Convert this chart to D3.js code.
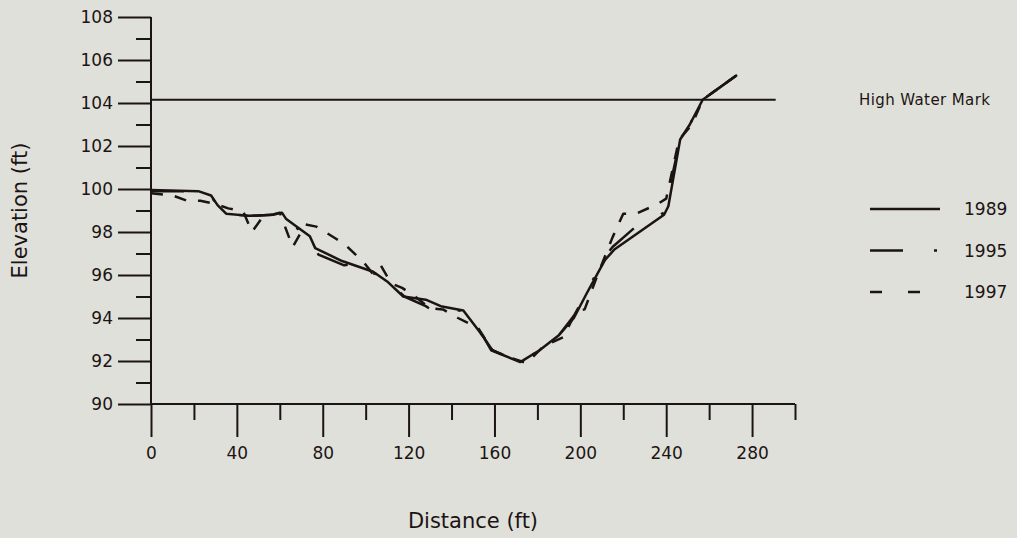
<!DOCTYPE html>
<html>
<head>
<meta charset="utf-8">
<script src="https://cdn.jsdelivr.net/npm/d3@7"></script>
<style>
  html, body { margin: 0; padding: 0; background: #dfe0d9; }
  svg { display: block; }
  text { font-family: "DejaVu Sans", sans-serif; fill: #1c1414; }
</style>
</head>
<body>
<div id="chart"></div>
<script>
var distance1989 = [0, 22, 28, 31, 35, 46, 57, 61, 63, 74, 76.5, 89, 103.5, 110, 117.5, 128, 135, 145.5, 155, 158.5, 172, 181, 190, 197, 203, 211.5, 216, 239, 241, 246.5, 251, 257, 273];
var elev1989 = [99.95, 99.9, 99.7, 99.25, 98.85, 98.75, 98.8, 98.9, 98.6, 97.8, 97.25, 96.65, 96.15, 95.7, 95.0, 94.85, 94.55, 94.35, 93.1, 92.5, 91.95, 92.5, 93.2, 94.0, 95.15, 96.7, 97.2, 98.8, 99.2, 102.3, 103.0, 104.15, 105.3];

var distance1995 = [0, 22, 28, 34, 46, 57, 61, 64, 74, 78, 90, 99, 103, 108, 118, 128, 132, 136, 146, 155, 159, 171, 180, 190, 197, 203, 211, 215, 227, 239, 246.5, 251, 257, 273];
var elev1995 = [99.9, 99.9, 99.65, 98.85, 98.75, 98.8, 98.9, 98.5, 97.7, 96.95, 96.45, 96.6, 96.1, 95.95, 95.0, 94.55, 94.3, 94.5, 94.3, 93.1, 92.5, 92.0, 92.4, 93.2, 94.1, 95.2, 96.8, 97.3, 98.35, 98.9, 102.3, 103.0, 104.15, 105.3];

var distance1997 = [0, 10, 17, 23, 30, 36, 43, 47, 52, 60, 66, 72, 77, 86, 90, 99, 103, 107, 112, 117, 123, 130, 136, 143, 148, 152, 159, 166, 175, 183, 192, 198, 202, 208, 215, 220, 226, 236, 240, 246, 252, 257, 273];
var elev1997 = [99.8, 99.7, 99.45, 99.45, 99.3, 99.1, 98.95, 98.0, 98.7, 98.9, 97.3, 98.35, 98.25, 97.7, 97.45, 96.6, 96.1, 96.45, 95.6, 95.4, 95.0, 94.45, 94.4, 94.0, 93.75, 93.6, 92.5, 92.2, 91.9, 92.7, 93.1, 94.3, 94.4, 96.0, 97.75, 98.85, 98.85, 99.3, 99.55, 102.3, 103.0, 104.15, 105.3];

var highWater = 104.15;
var highWaterEnd = 291;

var years = ["1989", "1995", "1997"];
var dashes = ["none", "33,31,3,31", "12,12"];

var xMajor = [0, 40, 80, 120, 160, 200, 240, 280];
var xMinor = [20, 60, 100, 140, 180, 220, 260, 300];
var yMajor = [90, 92, 94, 96, 98, 100, 102, 104, 106, 108];
var yMinor = [91, 93, 95, 97, 99, 101, 103, 105, 107];

var width = 1017, height = 538;
var ink = "#1c1414";

var svg = d3.select("#chart").append("svg")
    .attr("width", width)
    .attr("height", height);

var x = d3.scaleLinear().domain([0, 300]).range([151, 795]);
var y = d3.scaleLinear().domain([90, 108]).range([404, 17]);

// axes: long major ticks with labels, short minor ticks
function styleAxis(g) {
    g.select(".domain").remove();
    g.selectAll(".tick line").attr("stroke", ink).attr("stroke-width", 2);
    g.selectAll(".tick text")
        .style("font-family", "DejaVu Sans, sans-serif")
        .style("font-size", "17px")
        .attr("fill", ink);
}

svg.append("g")
    .attr("transform", "translate(0," + y(90) + ")")
    .call(d3.axisBottom(x).tickValues(xMajor).tickSize(33).tickPadding(10).tickFormat(d3.format("d")))
    .call(styleAxis);
svg.append("g")
    .attr("transform", "translate(0," + y(90) + ")")
    .call(d3.axisBottom(x).tickValues(xMinor).tickSize(16).tickFormat(""))
    .call(styleAxis);

svg.append("g")
    .attr("transform", "translate(" + x(0) + ",0)")
    .call(d3.axisLeft(y).tickValues(yMajor).tickSize(33).tickPadding(5).tickFormat(d3.format("d")))
    .call(styleAxis);
svg.append("g")
    .attr("transform", "translate(" + x(0) + ",0)")
    .call(d3.axisLeft(y).tickValues(yMinor).tickSize(15).tickFormat(""))
    .call(styleAxis);

// axis lines
svg.append("line")
    .attr("x1", x(0)).attr("x2", x(0))
    .attr("y1", y(108)).attr("y2", y(90))
    .attr("stroke", ink).attr("stroke-width", 2);
svg.append("line")
    .attr("x1", x(0)).attr("x2", x(300))
    .attr("y1", y(90)).attr("y2", y(90))
    .attr("stroke", ink).attr("stroke-width", 2);

// high water mark
svg.append("line")
    .attr("x1", x(0)).attr("x2", x(highWaterEnd))
    .attr("y1", y(highWater)).attr("y2", y(highWater))
    .attr("stroke", ink).attr("stroke-width", 2);
svg.append("text")
    .attr("x", 859)
    .attr("y", y(highWater) + 5)
    .style("font-size", "15px")
    .style("letter-spacing", "0.4px")
    .text("High Water Mark");

// survey lines
var line = d3.line()
    .x(function(d) { return x(d[0]); })
    .y(function(d) { return y(d[1]); });

var series = [
    d3.zip(distance1989, elev1989),
    d3.zip(distance1995, elev1995),
    d3.zip(distance1997, elev1997)
];

svg.selectAll(".survey")
    .data(series)
    .enter()
    .append("path")
    .attr("class", "survey")
    .attr("fill", "none")
    .attr("stroke", ink)
    .attr("stroke-width", 2.5)
    .attr("stroke-linejoin", "round")
    .attr("stroke-dasharray", function(d, i) { return dashes[i]; })
    .attr("d", line);

// legend
var legend = svg.selectAll(".legend")
    .data(years)
    .enter()
    .append("g")
    .attr("class", "legend")
    .attr("transform", function(d, i) { return "translate(870," + (209 + i * 41.5) + ")"; });
legend.append("line")
    .attr("x1", 0).attr("x2", 70)
    .attr("stroke", ink)
    .attr("stroke-width", 2.5)
    .attr("stroke-dasharray", function(d, i) { return i == 2 ? "12,26" : dashes[i]; });
legend.append("text")
    .attr("x", 94)
    .attr("dy", "0.36em")
    .style("font-size", "17px")
    .text(function(d) { return d; });

// axis titles
svg.append("text")
    .attr("x", x(150))
    .attr("y", 528)
    .attr("text-anchor", "middle")
    .style("font-size", "21px")
    .text("Distance (ft)");
svg.append("text")
    .attr("transform", "translate(27," + y(99) + ") rotate(-90)")
    .attr("text-anchor", "middle")
    .style("font-size", "21px")
    .text("Elevation (ft)");
</script>
</body>
</html>
